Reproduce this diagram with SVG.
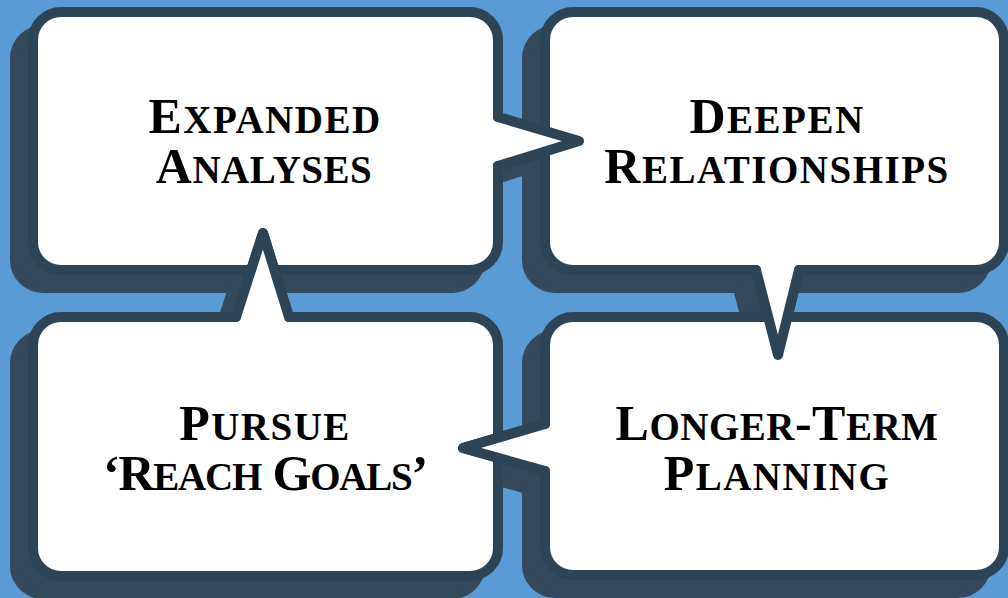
<svg xmlns="http://www.w3.org/2000/svg" width="1008" height="598" viewBox="0 0 1008 598">
<style>
.bg{fill:#5B9BD5}
.sh{fill:#35495D;stroke:#35495D;stroke-width:10;stroke-linejoin:round}
.bx{fill:#FFFFFF;stroke:#2D4356;stroke-width:10;stroke-linejoin:round}
.pf{fill:#FFFFFF;stroke:none}
.pl{fill:none;stroke:#2D4356;stroke-width:10;stroke-linejoin:round}
.t{font-family:"Liberation Serif","Times New Roman",serif;font-weight:bold;font-size:50px;font-variant:small-caps;letter-spacing:1.5px;fill:#000;text-anchor:middle}
.s{font-size:56px}
</style>
<defs>
<path id="pTL" d="M61,12 H470 A28 28 0 0 1 498,40 V117 L579,141 L498,166 V242 A28 28 0 0 1 470,270 H61 A28 28 0 0 1 33,242 V40 A28 28 0 0 1 61,12 Z"/>
<path id="pTR" d="M573,12 H976 A28 28 0 0 1 1004,40 V242 A28 28 0 0 1 976,270 H799 L778,355 L756,270 H573 A28 28 0 0 1 545,242 V40 A28 28 0 0 1 573,12 Z"/>
<path id="pBL" d="M61,317 H236 L263,233 L289,317 H470 A28 28 0 0 1 498,345 V548 A28 28 0 0 1 470,576 H61 A28 28 0 0 1 33,548 V345 A28 28 0 0 1 61,317 Z"/>
<path id="pBR" d="M573,317 H976 A28 28 0 0 1 1004,345 V547 A28 28 0 0 1 976,575 H573 A28 28 0 0 1 545,547 V471 L463,448 L545,424 V345 A28 28 0 0 1 573,317 Z"/>
</defs>
<rect class="bg" x="0" y="0" width="1008" height="598"/>
<g id="shadows" transform="translate(-18,18)">
<use href="#pTL" class="sh"/>
<use href="#pTR" class="sh"/>
<use href="#pBL" class="sh"/>
<use href="#pBR" class="sh"/>
</g>
<g id="node-expanded">
<use href="#pTL" class="bx"/>
</g>
<g id="node-deepen">
<use href="#pTR" class="bx"/>
</g>
<g id="node-pursue">
<use href="#pBL" class="bx"/>
</g>
<g id="node-longer">
<use href="#pBR" class="bx"/>
</g>
<g id="connectors">
<path class="pf" d="M498,117 L579,141 L498,166 Z"/>
<path class="pl" d="M498,100 V117 L579,141 L498,166 V183"/>
<path class="pf" d="M799,270 L778,355 L756,270 Z"/>
<path class="pl" d="M816,270 H799 L778,355 L756,270 H739"/>
<path class="pf" d="M236,317 L263,233 L289,317 Z"/>
<path class="pl" d="M219,317 H236 L263,233 L289,317 H306"/>
<path class="pf" d="M545,471 L463,448 L545,424 Z"/>
<path class="pl" d="M545,488 V471 L463,448 L545,424 V407"/>
</g>
<g id="labels">
<text class="t" x="265" y="133">E<tspan class="s">xpanded</tspan></text>
<text class="t" x="264" y="183" style="letter-spacing:0.5px">A<tspan class="s">nalyses</tspan></text>
<text class="t" x="777" y="133">D<tspan class="s">eepen</tspan></text>
<text class="t" x="777" y="183">R<tspan class="s">elationships</tspan></text>
<text class="t" x="265" y="440">P<tspan class="s">ursue</tspan></text>
<text class="t" x="265" y="490" style="letter-spacing:-1.2px">‘R<tspan class="s">each</tspan> G<tspan class="s">oals</tspan>’</text>
<text class="t" x="777" y="440" style="letter-spacing:0.5px">L<tspan class="s">onger</tspan>-T<tspan class="s">erm</tspan></text>
<text class="t" x="777" y="490">P<tspan class="s">lanning</tspan></text>
</g>
</svg>
